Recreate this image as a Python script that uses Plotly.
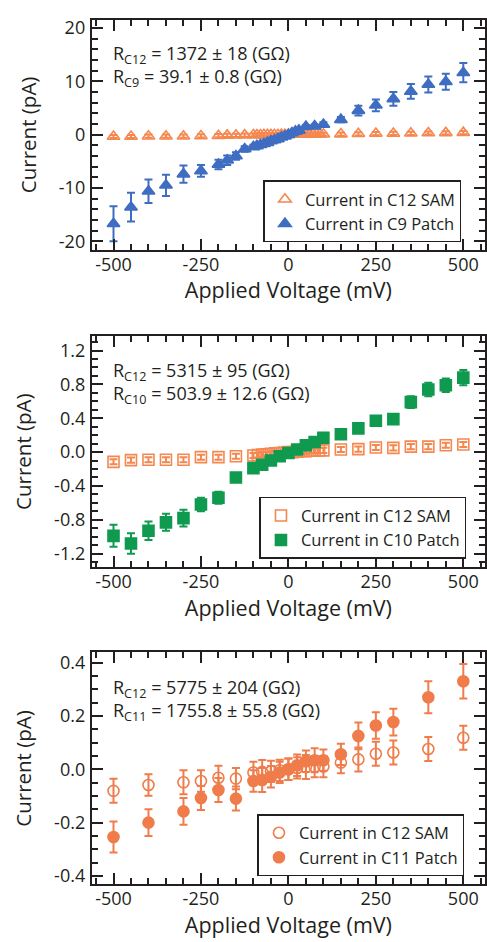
import plotly.graph_objects as go

# ---------------- Panel 1: C12 SAM vs C9 patch ----------------
v_c9 = [-500, -450, -400, -350, -300, -250, -200, -175, -150, -125, -100, -90, -80, -70, -60, -50,
        -40, -30, -20, -10, 0, 10, 20, 30, 50, 75, 100, 150, 200, 250, 300, 350, 400, 450, 500]
i_c9 = [-16.7, -13.6, -10.6, -9.5, -7.4, -6.8, -5.6, -4.8, -4.0, -2.7, -2.3, -2.1, -1.9, -1.7, -1.5, -1.2,
        -1.0, -0.8, -0.5, -0.3, 0.0, 0.3, 0.6, 0.8, 1.5, 1.6, 1.9, 2.8, 4.5, 5.5, 6.7, 8.1, 9.4, 9.9, 11.6]
e_c9 = [3.3, 2.7, 2.2, 2.0, 1.6, 1.1, 0.9, 0.9, 0.7, 0.5, 0.4, 0.3, 0.3, 0.3, 0.3, 0.2,
        0.2, 0.2, 0.2, 0.2, 0.2, 0.2, 0.2, 0.2, 0.3, 0.3, 0.4, 0.5, 0.9, 1.1, 1.3, 1.4, 1.5, 1.5, 1.8]

v_sam1 = [-500, -450, -400, -350, -300, -250, -200, -175, -150, -125, -100, -90, -80, -70, -60, -50,
          -40, -30, -20, -10, 0, 10, 20, 30, 40, 50, 60, 70, 80, 90, 100, 150, 200, 250, 300, 350, 400, 450, 500]
i_sam1 = [-0.35, -0.35, -0.3, -0.3, -0.3, -0.25, -0.2, -0.15, -0.13, -0.1, -0.08, -0.07, -0.06, -0.05, -0.04, -0.04,
          -0.03, -0.02, -0.01, -0.01, 0.0, 0.01, 0.01, 0.02, 0.03, 0.04, 0.04, 0.05, 0.06, 0.06, 0.07,
          0.1, 0.15, 0.2, 0.22, 0.25, 0.3, 0.33, 0.37]
e_sam1 = [0.3] * len(v_sam1)

# ---------------- Panel 2: C12 SAM vs C10 patch ----------------
v_c10 = [-500, -450, -400, -350, -300, -250, -200, -150, -100, -75, -50, -25, 0, 25, 50, 75, 100,
         150, 200, 250, 300, 350, 400, 450, 500]
i_c10 = [-0.99, -1.08, -0.93, -0.83, -0.78, -0.62, -0.54, -0.30, -0.19, -0.15, -0.10, -0.05, -0.01, 0.03, 0.08,
         0.12, 0.17, 0.21, 0.28, 0.37, 0.39, 0.59, 0.74, 0.79, 0.88]
e_c10 = [0.13, 0.12, 0.11, 0.10, 0.10, 0.08, 0.07, 0.03, 0.02, 0.02, 0.02, 0.02, 0.02, 0.02, 0.02,
         0.02, 0.02, 0.03, 0.03, 0.04, 0.04, 0.07, 0.08, 0.08, 0.09]

v_sam2 = [-500, -450, -400, -350, -300, -250, -200, -150, -100, -87.5, -75, -62.5, -50, -37.5, -25, -12.5, 0,
          12.5, 25, 37.5, 50, 62.5, 75, 87.5, 100, 150, 200, 250, 300, 350, 400, 450, 500]
i_sam2 = [-0.115, -0.095, -0.09, -0.09, -0.09, -0.06, -0.06, -0.05, -0.04, -0.035, -0.03, -0.025, -0.02, -0.015,
          -0.01, -0.005, 0.0, 0.0, 0.005, 0.01, 0.01, 0.015, 0.015, 0.02, 0.02, 0.03, 0.035, 0.055, 0.05,
          0.065, 0.065, 0.08, 0.09]
e_sam2 = [0.03] * len(v_sam2)

# ---------------- Panel 3: C12 SAM vs C11 patch ----------------
v_c11 = [-500, -400, -300, -250, -200, -150, -100, -75, -50, -25, 0, 25, 50, 75, 100, 150, 200, 250, 300, 400, 500]
i_c11 = [-0.254, -0.20, -0.158, -0.108, -0.078, -0.11, -0.044, -0.04, -0.028, -0.012, 0.0, 0.015, 0.03,
         0.034, 0.034, 0.056, 0.125, 0.164, 0.177, 0.27, 0.33]
e_c11 = [0.058, 0.05, 0.05, 0.045, 0.045, 0.045, 0.04, 0.045, 0.04, 0.04, 0.04, 0.04, 0.04, 0.045,
         0.04, 0.04, 0.05, 0.05, 0.05, 0.06, 0.065]

v_sam3 = v_c11
i_sam3 = [-0.081, -0.059, -0.049, -0.044, -0.032, -0.035, -0.012, -0.01, -0.008, -0.004, 0.0, 0.005, 0.008,
          0.01, 0.01, 0.025, 0.037, 0.058, 0.063, 0.076, 0.118]
e_sam3 = [0.045, 0.04, 0.045, 0.04, 0.045, 0.04, 0.04, 0.045, 0.04, 0.04, 0.04, 0.04, 0.045, 0.04,
          0.04, 0.04, 0.045, 0.045, 0.045, 0.045, 0.045]

# Tick labels
x_ticks = [-500, -250, 0, 250, 500]
x_ticklabels = ["-500", "-250", "0", "250", "500"]
y_ticks = [
    [-20, -10, 0, 10, 20],
    [-1.2, -0.8, -0.4, 0.0, 0.4, 0.8, 1.2],
    [-0.4, -0.2, 0.0, 0.2, 0.4],
]
y_ticklabels = [
    ["-20", "-10", "0", "10", "20"],
    ["-1.2", "-0.8", "-0.4", "0.0", "0.4", "0.8", "1.2"],
    ["-0.4", "-0.2", "0.0", "0.2", "0.4"],
]

annot = [
    ("R<sub>C12</sub> = 1372 ± 18 (GΩ)", "R<sub>C9</sub> = 39.1 ± 0.8 (GΩ)"),
    ("R<sub>C12</sub> = 5315 ± 95 (GΩ)", "R<sub>C10</sub> = 503.9 ± 12.6 (GΩ)"),
    ("R<sub>C12</sub> = 5775 ± 204 (GΩ)", "R<sub>C11</sub> = 1755.8 ± 55.8 (GΩ)"),
]

ORANGE = "#F5874F"
ORANGE3 = "#EF7C4A"
BLUE = "#3F6DC2"
GREEN = "#0F9A4F"
INK = "#231F20"
FONT = "Open Sans"

W, H = 487, 942


def py(px):
    return 1 - px / H


fig = go.Figure()


def add(x, y, e, name, color, symbol, ax, leg):
    fig.add_trace(go.Scatter(
        x=x, y=y, mode="markers", name=name,
        marker=dict(symbol=symbol, size=11, color=color,
                    line=dict(color=color, width=1.6)),
        error_y=dict(type="data", array=e, color=color, thickness=2, width=4),
        xaxis="x" + ax, yaxis="y" + ax, legend=leg,
    ))


add(v_sam1, i_sam1, e_sam1, "Current in C12 SAM", ORANGE, "triangle-up-open", "", "legend")
add(v_c9, i_c9, e_c9, "Current in C9 Patch", BLUE, "triangle-up", "", "legend")
add(v_sam2, i_sam2, e_sam2, "Current in C12 SAM", ORANGE, "square-open", "2", "legend2")
add(v_c10, i_c10, e_c10, "Current in C10 Patch", GREEN, "square", "2", "legend2")
add(v_sam3, i_sam3, e_sam3, "Current in C12 SAM", ORANGE3, "circle-open", "3", "legend3")
add(v_c11, i_c11, e_c11, "Current in C11 Patch", ORANGE3, "circle", "3", "legend3")

panels = [
    dict(top=15, bot=247, yr=[-21.6, 21.5], mdt=2),
    dict(top=334, bot=567, yr=[-1.36, 1.37], mdt=0.1),
    dict(top=653, bot=887, yr=[-0.432, 0.438], mdt=0.05),
]

xdom = [92 / W, 486 / W]
layout = dict(
    width=W, height=H, margin=dict(l=0, r=0, t=0, b=0),
    paper_bgcolor="white", plot_bgcolor="white",
    font=dict(family=FONT, color=INK, size=18),
    showlegend=True,
)

annotations = []
legend_pos = [(264, 177), (260, 496), (258, 816)]
for k, p in enumerate(panels):
    suf = "" if k == 0 else str(k + 1)
    ydom = [py(p["bot"]), py(p["top"])]
    common = dict(showline=True, linecolor=INK, linewidth=2, mirror="allticks",
                  ticks="inside", tickcolor=INK, tickwidth=1.5, showgrid=False, zeroline=False,
                  tickfont=dict(family=FONT, size=18, color=INK), ticklen=11)
    layout["xaxis" + suf] = dict(
        domain=xdom, anchor="y" + suf, range=[-562, 562],
        tickmode="array", tickvals=x_ticks, ticktext=x_ticklabels,
        minor=dict(tick0=0, dtick=50, ticklen=6, ticks="inside", tickcolor=INK, tickwidth=1.5, showgrid=False),
        ticklabelstandoff=-3,
        title=dict(text="Applied Voltage (mV)", font=dict(family=FONT, size=21.5, color=INK), standoff=4),
        **common)
    layout["yaxis" + suf] = dict(
        domain=ydom, anchor="x" + suf, range=p["yr"],
        tickmode="array", tickvals=y_ticks[k], ticktext=y_ticklabels[k],
        minor=dict(tick0=0, dtick=p["mdt"], ticklen=6, ticks="inside", tickcolor=INK, tickwidth=1.5, showgrid=False),
        ticklabelstandoff=1,
        title=dict(text="Current (pA)", font=dict(family=FONT, size=20.5, color=INK), standoff=17),
        **common)
    lx, ly = legend_pos[k]
    layout["legend" if k == 0 else "legend" + str(k + 1)] = dict(
        x=lx / W, y=py(ly), xanchor="left", yanchor="top", xref="paper", yref="paper",
        bgcolor="white", bordercolor=INK, borderwidth=1.5,
        font=dict(family=FONT, size=16.5, color=INK), tracegroupgap=0, itemwidth=30,
    )
    l1, l2 = annot[k]
    ymid = [62, 381, 701][k]
    annotations.append(dict(text=l1 + "<br>" + l2, x=111 / W, y=py(ymid), xref="paper", yref="paper",
                            xanchor="left", yanchor="middle", align="left", showarrow=False,
                            font=dict(family=FONT, size=18, color=INK)))

layout["annotations"] = annotations
fig.update_layout(**layout)
fig.write_html("out.html")
